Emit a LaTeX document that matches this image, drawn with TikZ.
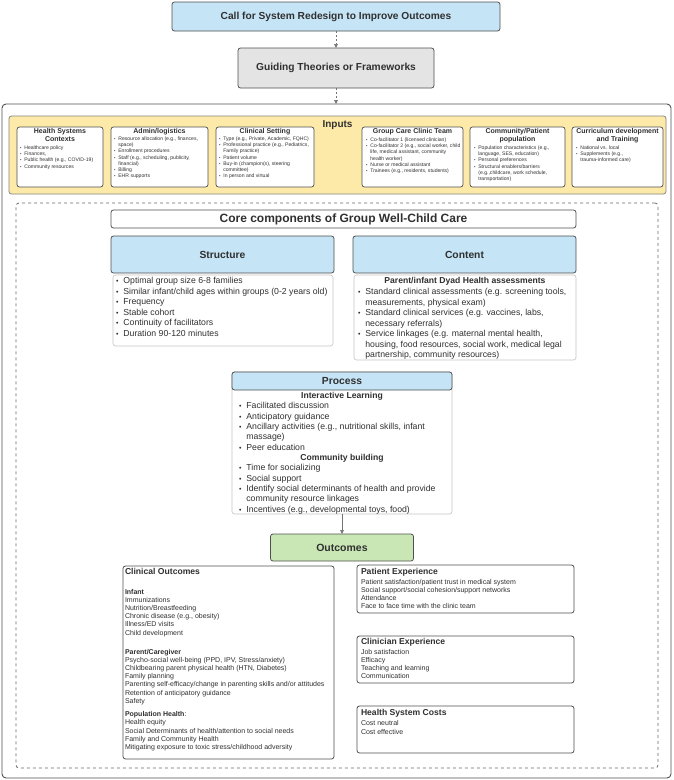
\documentclass[tikz,border=0pt]{standalone}
\usepackage{fontspec}
\setmainfont{Liberation Sans}
\usetikzlibrary{arrows.meta}
\definecolor{bord}{HTML}{505050}
\definecolor{lbord}{HTML}{C4C4C4}
\definecolor{bluef}{HTML}{C5E4F6}
\definecolor{grayf}{HTML}{E4E4E4}
\definecolor{yelf}{HTML}{FDEAA8}
\definecolor{greenf}{HTML}{C9E7B5}
\definecolor{txt}{HTML}{303030}
\newcommand\bu{\makebox[0.85em][l]{\scalebox{0.8}{•}}}
\newcommand\hi{\hspace*{0.85em}}
\newcommand\fsz[2]{\fontsize{#1}{#2}\selectfont}
\begin{document}
\begin{tikzpicture}[x=1pt,y=-1pt,
  every node/.style={text=txt,inner sep=0pt,outer sep=0pt},
  box/.style={draw=bord,line width=0.8pt,rounded corners=2.5pt,anchor=north west},
  lbox/.style={draw=lbord,line width=0.6pt,rounded corners=2.5pt,anchor=north west,fill=white},
  ibox/.style={draw=bord,line width=0.7pt,rounded corners=2.5pt,anchor=north west,fill=white},
  ititle/.style={font=\fsz{7}{8.3}\bfseries,align=center,anchor=north},
  ibody/.style={font=\fsz{5.1}{6.2},align=left,anchor=north west},
  ctext/.style={font=\fsz{8.7}{10.5},align=left,anchor=north west},
  csub/.style={font=\fsz{8.6}{10.5}\bfseries,anchor=north},
  otitle/.style={font=\fsz{8.6}{10}\bfseries,anchor=north west},
  obody/.style={font=\fsz{7}{8.2},align=left,anchor=north west},
  dasharr/.style={draw=bord!80,line width=0.6pt,dash pattern=on 2pt off 2pt,-{Triangle[length=4pt,width=3.6pt]}},
  solarr/.style={draw=bord!80,line width=0.6pt,-{Triangle[length=4pt,width=3.6pt]}}
]
\fill[white] (0,0) rectangle (674,780);
\useasboundingbox (0,0) rectangle (674,780);

% top
\node[box,fill=bluef,anchor=center,minimum width=328,minimum height=29,font=\fsz{10.2}{12}\bfseries] (call) at (336,16.5) {Call for System Redesign to Improve Outcomes};
\node[box,fill=grayf,anchor=center,minimum width=196,minimum height=40,font=\fsz{10.2}{12}\bfseries] (guide) at (336,68) {Guiding Theories or Frameworks};
\node[box,line width=0.9pt,rounded corners=4pt,minimum width=669,minimum height=674] (outer) at (2,104) {};
\draw[dasharr] (call) -- (guide);
\draw[dasharr] (guide.south) -- (guide.south |- outer.north);

% inputs
\node[box,draw=bord!70,fill=yelf,minimum width=657,minimum height=78] (inputs) at (9,116) {};
\node[font=\fsz{10}{12}\bfseries] (inlab) at (337.5,125) {Inputs};

\node[ibox,minimum width=86,minimum height=60] (hsb) at (17,127) {};
\node[ititle] (hst) at (60,128) {Health Systems\\Contexts};
\node[ibody] (hsx) at (20,145.8) {\bu Healthcare policy\\ \bu Finances,\\ \bu Public health (e.g., COVID-19)\\ \bu Community resources};

\node[ibox,minimum width=97,minimum height=60] (adb) at (111,127) {};
\node[ititle] (adt) at (159.5,128) {Admin/logistics};
\node[ibody] (adx) at (114,136.8) {\bu Resource allocation (e.g., finances,\\ \hi space)\\ \bu Enrollment procedures\\ \bu Staff (e.g., scheduling, publicity,\\ \hi financial)\\ \bu Billing\\ \bu EHR supports};

\node[ibox,minimum width=98,minimum height=60] (csb) at (216,127) {};
\node[ititle] (cst) at (265,128) {Clinical Setting};
\node[ibody] (csx) at (219,136.8) {\bu Type (e.g., Private, Academic, FQHC)\\ \bu Professional practice (e.g., Pediatrics,\\ \hi Family practice)\\ \bu Patient volume\\ \bu Buy-in (champion(s), steering\\ \hi committee)\\ \bu In person and virtual};

\node[ibox,minimum width=101,minimum height=60] (gcb) at (362,127) {};
\node[ititle] (gct) at (412.5,128.5) {Group Care Clinic Team};
\node[ibody] (gcx) at (366,137.8) {\bu Co-facilitator 1 (licensed clinician)\\ \bu Co-facilitator 2 (e.g., social worker, child\\ \hi life, medical assistant, community\\ \hi health worker)\\ \bu Nurse or medical assistant\\ \bu Trainees (e.g., residents, students)};

\node[ibox,minimum width=95,minimum height=60] (cpb) at (470,127) {};
\node[ititle] (cpt) at (517.5,128) {Community/Patient\\population};
\node[ibody] (cpx) at (474,145.8) {\bu Population characteristics (e.g.,\\ \hi language, SES, education)\\ \bu Personal preferences\\ \bu Structural enablers/barriers\\ \hi (e.g.,childcare, work schedule,\\ \hi transportation)};

\node[ibox,minimum width=91,minimum height=60] (cdb) at (572,127) {};
\node[ititle] (cdt) at (617.5,128) {Curriculum development\\and Training};
\node[ibody] (cdx) at (576,145.8) {\bu National vs. local\\ \bu Supplements (e.g.,\\ \hi trauma-informed care)};

% core frame
\node[box,draw=bord!85,dash pattern=on 3pt off 3pt,rounded corners=3pt,minimum width=642,minimum height=565] (corefr) at (16,203) {};
\node[box,minimum width=465,minimum height=18,font=\fsz{12}{14}\bfseries] (core) at (111,210) {Core components of Group Well-Child Care};

\node[box,fill=bluef,minimum width=223,minimum height=37,font=\fsz{10.3}{12}\bfseries] (sth) at (111,236) {Structure};
\node[box,fill=bluef,minimum width=223,minimum height=37,font=\fsz{10.3}{12}\bfseries] (cth) at (353,236) {Content};
\node[lbox,minimum width=220,minimum height=71] (stl) at (113,275) {};
\node[lbox,minimum width=222,minimum height=85] (ctl) at (354,275) {};
\node[ctext] (stx) at (116,277.3) {\bu Optimal group size 6-8 families\\ \bu Similar infant/child ages within groups (0-2 years old)\\ \bu Frequency\\ \bu Stable cohort\\ \bu Continuity of facilitators\\ \bu Duration 90-120 minutes};
\node[csub] (ctsub) at (465,277.3) {Parent/infant Dyad Health assessments};
\node[ctext] (ctx) at (358,288.3) {\bu Standard clinical assessments (e.g. screening tools,\\ \hi measurements, physical exam)\\ \bu Standard clinical services (e.g. vaccines, labs,\\ \hi necessary referrals)\\ \bu Service linkages (e.g. maternal mental health,\\ \hi housing, food resources, social work, medical legal\\ \hi partnership, community resources)};

% process
\node[lbox,minimum width=220,minimum height=142] (prb) at (232,372) {};
\node[box,fill=bluef,minimum width=220,minimum height=18,font=\fsz{10.3}{12}\bfseries] (prh) at (232,372) {Process};
\node[csub] (prs1) at (342,392.3) {Interactive Learning};
\node[ctext,font=\fsz{8.7}{10.4}] (prx1) at (239,402.3) {\bu Facilitated discussion\\ \bu Anticipatory guidance\\ \bu Ancillary activities (e.g., nutritional skills, infant\\ \hi massage)\\ \bu Peer education};
\node[csub] (prs2) at (342,454.3) {Community building};
\node[ctext,font=\fsz{8.7}{10.4}] (prx2) at (239,464.3) {\bu Time for socializing\\ \bu Social support\\ \bu Identify social determinants of health and provide\\ \hi community resource linkages\\ \bu Incentives (e.g., developmental toys, food)};

% outcomes
\node[box,fill=greenf,anchor=center,minimum width=143,minimum height=27,font=\fsz{10.5}{12}\bfseries] (outc) at (342,547.5) {Outcomes};
\draw[solarr] (prb.south) -- (outc.north);

\node[box,minimum width=211,minimum height=193] (cob) at (123,566) {};
\node[otitle] (cot) at (125,568.4) {Clinical Outcomes};
\node[obody] (cox) at (125,589) {\textbf{Infant}\\ Immunizations\\ Nutrition/Breastfeeding\\ Chronic disease (e.g., obesity)\\ Illness/ED visits\\ Child development\\[10.8pt] \textbf{Parent/Caregiver}\\ Psycho-social well-being (PPD, IPV, Stress/anxiety)\\ Childbearing parent physical health (HTN, Diabetes)\\ Family planning\\ Parenting self-efficacy/change in parenting skills and/or attitudes\\ Retention of anticipatory guidance\\ Safety\\[5.2pt] \textbf{Population Health}:\\ Health equity\\ Social Determinants of health/attention to social needs\\ Family and Community Health\\ Mitigating exposure to toxic stress/childhood adversity};

\node[box,minimum width=217,minimum height=48] (peb) at (357,565) {};
\node[otitle] (pet) at (361,568.4) {Patient Experience};
\node[obody] (pex) at (361,579) {Patient satisfaction/patient trust in medical system\\ Social support/social cohesion/support networks\\ Attendance\\ Face to face time with the clinic team};

\node[box,minimum width=217,minimum height=47] (ceb) at (357,636) {};
\node[otitle] (cet) at (361,638.4) {Clinician Experience};
\node[obody] (cex) at (361,649) {Job satisfaction\\ Efficacy\\ Teaching and learning\\ Communication};

\node[box,minimum width=217,minimum height=47] (hcb) at (357,706) {};
\node[otitle] (hct) at (361,709.4) {Health System Costs};
\node[obody,font=\fsz{7}{9.5}] (hcx) at (361,720) {Cost neutral\\ Cost effective};
\end{tikzpicture}
\end{document}
